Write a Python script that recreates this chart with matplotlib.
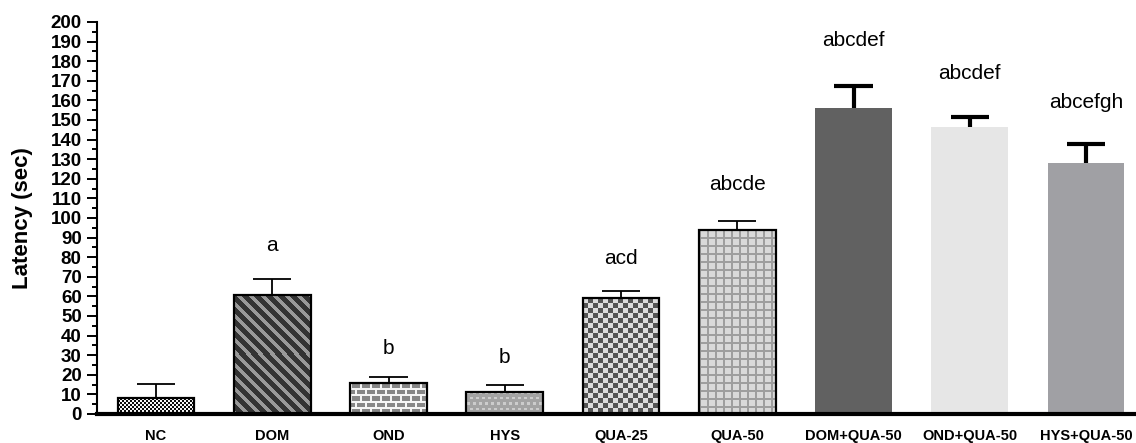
import numpy as np
import matplotlib
matplotlib.use('Agg')
import matplotlib.pyplot as plt
from matplotlib.ticker import MultipleLocator

groups = ['NC', 'DOM', 'OND', 'HYS', 'QUA-25', 'QUA-50',
          'DOM+QUA-50', 'OND+QUA-50', 'HYS+QUA-50']
latency = [8.0, 60.9, 16.0, 11.4, 59.0, 94.1, 156.0, 146.6, 128.2]
sem = [7.2, 8.0, 3.1, 3.4, 3.6, 4.3, 11.4, 5.0, 9.4]
letters = ['', 'a', 'b', 'b', 'acd', 'abcde', 'abcdef', 'abcdef', 'abcefgh']

# fill style per bar: texture name or plain colour
fills = ['fine_check', 'stripes', 'bricks', 'stipple', 'check', 'grid',
         '#616161', '#e6e6e6', '#a0a0a4']


def texture(kind, h, w):
    i, j = np.mgrid[0:h, 0:w]
    if kind == 'fine_check':
        return np.where((i // 2 + j // 2) % 2, 0.05, 0.97)
    if kind == 'stripes':
        return np.where((i - j) % 12 < 7, 0.2, 0.6)
    if kind == 'bricks':
        shift = ((i // 6) % 2) * 5
        mortar = (i % 6 < 2) | ((j + shift) % 10 < 2)
        return np.where(mortar, 0.96, 0.53)
    if kind == 'stipple':
        shift = ((i // 5) % 2) * 3
        dot = (i % 5 >= 1) & (i % 5 <= 2) & ((j + shift) % 6 >= 1) & ((j + shift) % 6 <= 3)
        return np.where(dot, 0.8, 0.64)
    if kind == 'check':
        return np.where((i // 5 + j // 5) % 2, 0.33, 0.86)
    if kind == 'grid':
        line = (i % 8 < 2) | (j % 8 < 2)
        return np.where(line, 0.62, 0.85)


plt.rcParams['font.family'] = ['Liberation Sans', 'DejaVu Sans']

fig = plt.figure(figsize=(11.36, 4.43), dpi=100)
ax = fig.add_axes([97 / 1136, 29 / 443, 1039 / 1136, 392 / 443])

x = np.arange(len(groups))
width = 0.66
px_per_unit = 392 / 200.0
bar_px = int(round(width * 116.25))

for k in range(len(groups)):
    f = fills[k]
    if f.startswith('#'):
        ax.bar(x[k], latency[k], width, color=f, edgecolor='none', zorder=3)
    else:
        b = ax.bar(x[k], latency[k], width, facecolor='none',
                   edgecolor='black', linewidth=1.6, zorder=4)[0]
        h = max(int(round(latency[k] * px_per_unit)), 1)
        im = ax.imshow(texture(f, h, bar_px), cmap='gray', vmin=0, vmax=1,
                       interpolation='nearest', aspect='auto', zorder=3,
                       extent=(x[k] - width / 2, x[k] + width / 2, 0, latency[k]))
        im.set_clip_path(b)

# upper error bars only, thin for the first six, heavy for the combinations
tops = np.array(latency) + np.array(sem)
cap = 0.165
for k in range(len(groups)):
    lw = 1.3 if k < 6 else 3.0
    ax.vlines(x[k], latency[k], tops[k], color='black', linewidth=lw, zorder=2)
    ax.hlines(tops[k], x[k] - cap, x[k] + cap, color='black', linewidth=lw,
              zorder=2)

for k in range(len(groups)):
    if letters[k]:
        ax.text(x[k], tops[k] * 1.06 + 13, letters[k], ha='center',
                va='center', fontsize=15)

ax.set_xlim(-0.5075, 8.43)
ax.set_ylim(0, 200)
ax.yaxis.set_major_locator(MultipleLocator(10))
ax.yaxis.set_minor_locator(MultipleLocator(5))
ax.tick_params(axis='y', which='major', length=7, width=1.4, pad=4,
               labelsize=13.5)
ax.tick_params(axis='y', which='minor', length=3.5, width=1.4)
for lab in ax.get_yticklabels():
    lab.set_fontweight('bold')

ax.set_xticks(x)
ax.set_xticklabels(groups, fontweight='bold', fontsize=10.5)
ax.tick_params(axis='x', length=0, pad=11)

ax.set_ylabel('Latency (sec)', fontsize=16, fontweight='bold')
ax.yaxis.set_label_coords(-0.062, 0.5)

ax.spines['top'].set_visible(False)
ax.spines['right'].set_visible(False)
ax.spines['left'].set_linewidth(1.5)
ax.spines['bottom'].set_linewidth(3)
ax.spines['bottom'].set_zorder(5)

fig.savefig('out.png', dpi=100)
